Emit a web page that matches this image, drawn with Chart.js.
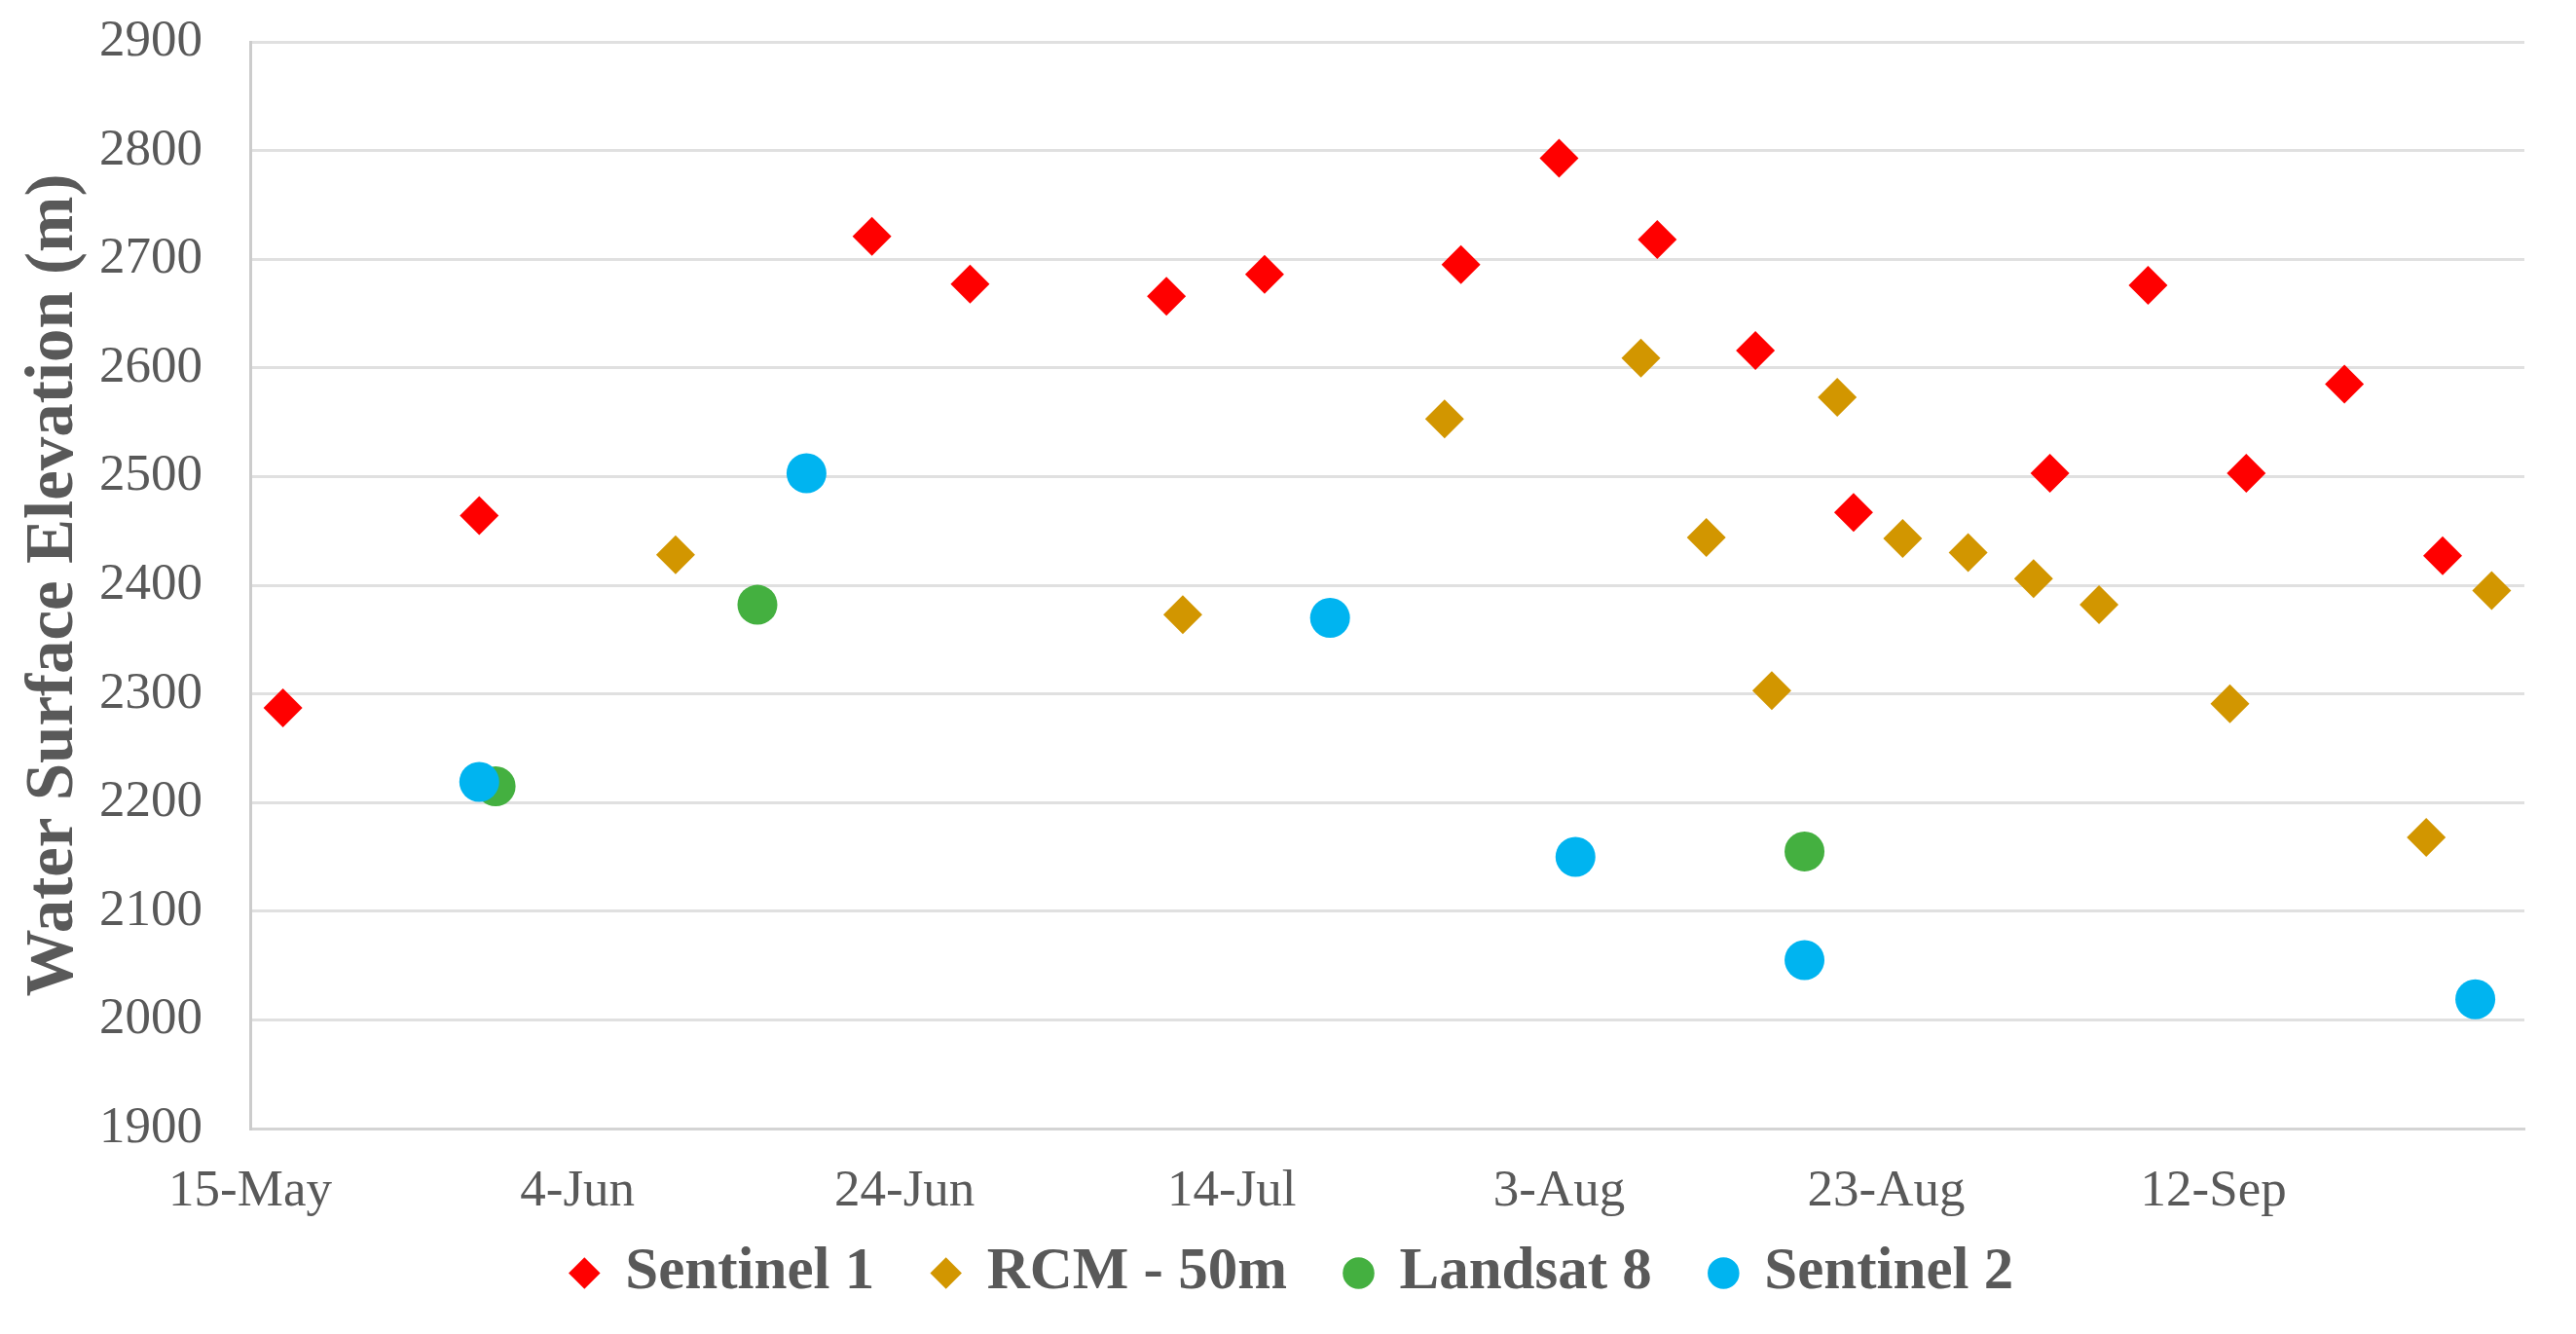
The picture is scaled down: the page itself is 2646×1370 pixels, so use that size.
<!DOCTYPE html>
<html>
<head>
<meta charset="utf-8">
<script src="https://cdn.jsdelivr.net/npm/chart.js@4.4.1/dist/chart.umd.min.js"></script>
<style>
  html, body { margin: 0; padding: 0; background: #fff; }
  #wrap { width: 2646px; height: 1370px; }
</style>
</head>
<body>
<div id="wrap"><canvas id="myChart" width="2646" height="1370"></canvas></div>
<script>
// x values are days after 15-May
const tickDays = [0, 20, 40, 60, 80, 100, 120];
const tickLabels = ['15-May', '4-Jun', '24-Jun', '14-Jul', '3-Aug', '23-Aug', '12-Sep'];

const s1Days = [2, 14, 38, 44, 56, 62, 74, 80, 86, 92, 98, 110, 116, 122, 128, 134];
const s1Elev = [2287, 2464, 2721, 2677, 2666, 2686, 2695, 2793, 2718, 2616, 2467, 2503, 2676, 2503, 2585, 2427];

const rcmDays = [26, 57, 73, 85, 89, 93, 97, 101, 105, 109, 113, 121, 133, 137];
const rcmElev = [2428, 2373, 2553, 2609, 2444, 2303, 2573, 2443, 2430, 2406, 2382, 2291, 2168, 2395];

const l8Days = [15, 31, 95];
const l8Elev = [2215, 2382, 2155];

const s2Days = [14, 34, 66, 81, 95, 136];
const s2Elev = [2219, 2503, 2370, 2150, 2055, 2019];

const grey = '#595959';
const serif = "'Liberation Serif', 'Times New Roman', serif";

function pts(days, vals) {
  return days.map((d, i) => ({x: d, y: vals[i]}));
}

// after layout: let the x labels spill below their box (no clipping)
// and nudge the legend right, like the original
const tweakLayout = {
  id: 'tweakLayout',
  afterLayout(chart) {
    chart.scales.x.bottom = chart.height;
    chart.legend.left += 32;
    chart.legend.right += 32;
  }
};

const ctx = document.getElementById('myChart').getContext('2d');

const myChart = new Chart(ctx, {
  type: 'scatter',
  data: {
    datasets: [{
      label: 'Sentinel 1',
      data: pts(s1Days, s1Elev),
      backgroundColor: '#ff0000',
      pointStyle: 'rectRot',
      pointRadius: 20,
      borderWidth: 0,
      order: 4
    }, {
      label: 'RCM - 50m',
      data: pts(rcmDays, rcmElev),
      backgroundColor: '#d29600',
      pointStyle: 'rectRot',
      pointRadius: 20,
      borderWidth: 0,
      order: 3
    }, {
      label: 'Landsat 8',
      data: pts(l8Days, l8Elev),
      backgroundColor: '#44b040',
      pointStyle: 'circle',
      pointRadius: 20.5,
      borderWidth: 0,
      order: 2
    }, {
      label: 'Sentinel 2',
      data: pts(s2Days, s2Elev),
      backgroundColor: '#00b4f0',
      pointStyle: 'circle',
      pointRadius: 20.5,
      borderWidth: 0,
      order: 1
    }]
  },
  plugins: [tweakLayout],
  options: {
    responsive: false,
    animation: false,
    devicePixelRatio: 1,
    events: [],
    layout: {
      padding: {top: 43, right: 53, bottom: 22, left: 0}
    },
    scales: {
      x: {
        type: 'linear',
        min: 0,
        max: 139,
        afterFit: (scale) => { scale.height = 56; },
        grid: {display: false, drawTicks: false},
        border: {display: true, color: '#d4d4d4', width: 3},
        ticks: {
          stepSize: 20,
          padding: 33,
          color: grey,
          maxRotation: 0,
          autoSkip: false,
          font: {family: serif, size: 53},
          callback: (v) => {
            const i = tickDays.indexOf(v);
            return i >= 0 ? tickLabels[i] : '';
          }
        }
      },
      y: {
        min: 1900,
        max: 2900,
        afterFit: (scale) => {
          scale.width = 257;
          scale.paddingTop = 0;
          scale.paddingBottom = 0;
        },
        grid: {color: '#e0e0e0', lineWidth: 3, drawTicks: false},
        border: {display: true, color: '#cccccc', width: 3},
        ticks: {
          stepSize: 100,
          padding: 49,
          color: grey,
          font: {family: serif, size: 53},
          callback: (v) => String(v)
        },
        title: {
          display: true,
          text: 'Water Surface Elevation (m)',
          color: grey,
          padding: {top: 15, bottom: 0},
          font: {family: serif, size: 69, weight: 'bold'}
        }
      }
    },
    plugins: {
      tooltip: {enabled: false},
      legend: {
        position: 'bottom',
        labels: {
          usePointStyle: true,
          boxWidth: 23,
          boxHeight: 23,
          padding: 62,
          color: grey,
          sort: (a, b) => a.datasetIndex - b.datasetIndex,
          font: {family: serif, size: 61, weight: 'bold'}
        }
      }
    }
  }
});
</script>
</body>
</html>
